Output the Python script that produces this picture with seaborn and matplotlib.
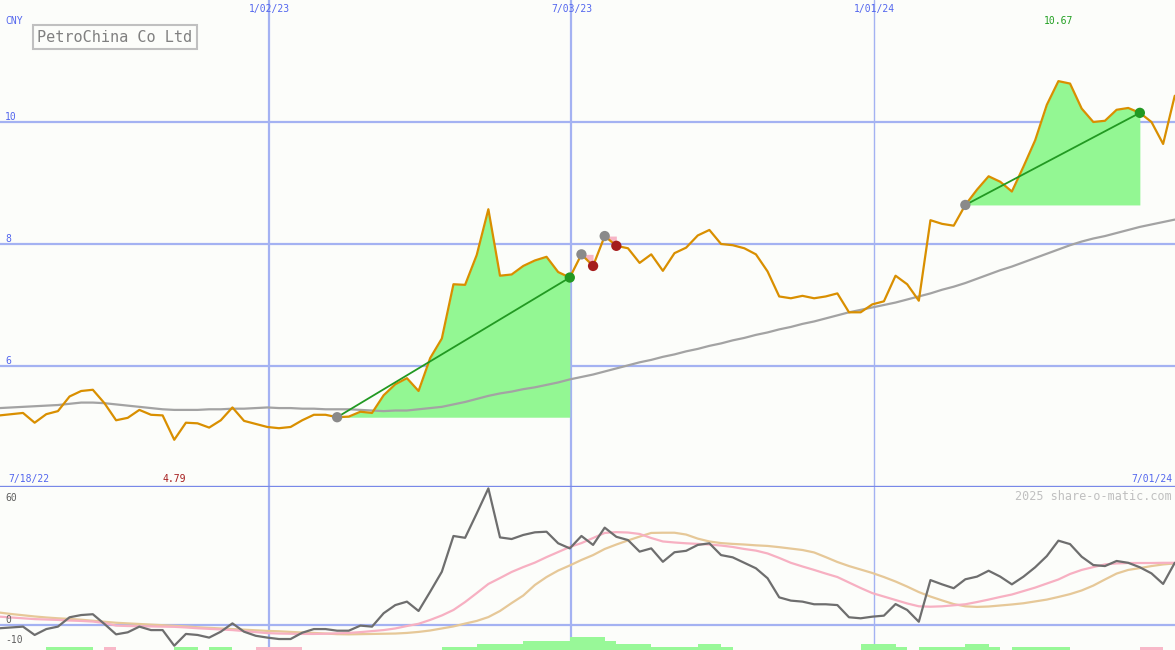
import numpy as np
import pandas as pd
import seaborn as sns
import matplotlib.pyplot as plt
import matplotlib.dates as mdates
from matplotlib.transforms import blended_transform_factory

# weekly data, first week 17 Jul 2022
week_start = '2022-07-17'

price = [5.17, 5.19, 5.21, 5.23, 5.07, 5.21, 5.26, 5.50, 5.59, 5.61,
         5.39, 5.11, 5.15, 5.28, 5.20, 5.19, 4.79, 5.07, 5.06, 4.99,
         5.11, 5.32, 5.10, 5.05, 5.00, 4.98, 5.00, 5.11, 5.20, 5.20,
         5.16, 5.17, 5.25, 5.23, 5.52, 5.70, 5.80, 5.59, 6.13, 6.45,
         7.34, 7.33, 7.82, 8.57, 7.48, 7.50, 7.64, 7.73, 7.79, 7.54,
         7.45, 7.83, 7.64, 8.13, 7.97, 7.93, 7.69, 7.83, 7.56, 7.85,
         7.94, 8.14, 8.23, 8.00, 7.98, 7.93, 7.83, 7.55, 7.14, 7.11,
         7.15, 7.11, 7.14, 7.19, 6.88, 6.88, 7.01, 7.06, 7.48, 7.34,
         7.07, 8.39, 8.33, 8.30, 8.64, 8.89, 9.11, 9.02, 8.86, 9.27,
         9.70, 10.28, 10.67, 10.63, 10.22, 10.00, 10.02, 10.20, 10.23, 10.15,
         10.00, 9.64, 10.43]

ma40 = [5.30, 5.31, 5.32, 5.33, 5.34, 5.35, 5.36, 5.38, 5.40, 5.40,
        5.39, 5.37, 5.35, 5.33, 5.31, 5.29, 5.28, 5.28, 5.28, 5.29,
        5.29, 5.30, 5.30, 5.31, 5.32, 5.31, 5.31, 5.30, 5.30, 5.29,
        5.29, 5.29, 5.28, 5.27, 5.26, 5.27, 5.27, 5.29, 5.31, 5.33,
        5.37, 5.41, 5.46, 5.51, 5.55, 5.58, 5.62, 5.65, 5.69, 5.73,
        5.78, 5.82, 5.86, 5.91, 5.96, 6.01, 6.06, 6.10, 6.15, 6.19,
        6.24, 6.28, 6.33, 6.37, 6.42, 6.46, 6.51, 6.55, 6.60, 6.64,
        6.69, 6.73, 6.78, 6.83, 6.88, 6.92, 6.96, 7.00, 7.04, 7.09,
        7.14, 7.19, 7.25, 7.30, 7.36, 7.43, 7.50, 7.57, 7.63, 7.70,
        7.77, 7.84, 7.91, 7.98, 8.04, 8.09, 8.13, 8.18, 8.23, 8.28,
        8.32, 8.36, 8.40]

rel = [-2.0, -1.6, -1.2, -0.8, -4.9, -2.0, -0.8, 3.8, 4.9, 5.3,
       0.5, -4.6, -3.6, -0.8, -2.5, -2.5, -10.2, -4.4, -4.9, -6.2,
       -3.3, 0.8, -3.3, -5.3, -6.2, -6.9, -6.9, -3.8, -2.0, -2.0,
       -2.8, -2.8, -0.3, -0.8, 5.8, 9.8, 11.5, 6.9, 16.4, 26.2,
       43.8, 42.9, 54.9, 67.2, 43.1, 42.3, 44.3, 45.6, 45.9, 40.2,
       37.7, 43.8, 39.4, 47.9, 43.4, 41.8, 36.1, 37.7, 31.1, 35.8,
       36.5, 39.4, 40.2, 34.4, 33.3, 30.6, 27.9, 23.0, 13.6, 12.0,
       11.5, 10.2, 10.2, 9.8, 3.8, 3.3, 4.1, 4.6, 10.3, 7.4,
       1.6, 22.1, 20.0, 18.1, 22.5, 23.8, 26.7, 23.8, 20.0, 23.8,
       28.4, 33.9, 41.5, 39.8, 33.6, 29.5, 29.0, 31.5, 30.6, 28.4,
       25.4, 20.2, 30.6]

rel_fast = [4.3, 4.1, 3.7, 3.3, 2.9, 2.7, 2.5, 2.2, 2.0, 1.7,
            1.0, -0.3, -0.5, -0.6, -0.7, -0.8, -0.9, -1.2, -1.6, -1.9,
            -2.2, -2.5, -3.0, -3.5, -4.0, -4.2, -4.3, -4.4, -4.4, -4.3,
            -4.1, -3.9, -3.5, -3.0, -2.5, -1.7, -0.5, 0.6, 2.5, 4.7,
            7.4, 11.3, 15.7, 20.2, 23.1, 26.1, 28.5, 30.7, 33.4, 35.9,
            38.4, 40.3, 42.8, 45.3, 45.7, 45.5, 44.8, 42.8, 41.1, 40.6,
            40.2, 39.9, 39.6, 39.1, 38.4, 37.4, 36.6, 35.2, 33.0, 30.6,
            28.8, 27.1, 25.3, 23.6, 20.9, 18.2, 15.7, 14.0, 12.3, 10.6,
            9.2, 9.0, 9.2, 9.7, 10.2, 11.3, 12.5, 13.8, 15.0, 16.7,
            18.4, 20.4, 22.4, 25.1, 27.1, 28.5, 29.8, 30.3, 30.5, 30.5,
            30.5, 30.6, 30.6]

rel_slow = [6.4, 6.1, 5.4, 4.8, 4.2, 3.7, 3.3, 3.0, 2.6, 2.1,
            1.6, 1.1, 0.8, 0.5, 0.2, -0.1, -0.4, -0.7, -1.1, -1.4,
            -1.7, -2.0, -2.3, -2.6, -2.9, -3.1, -3.4, -3.7, -3.9, -4.2,
            -4.5, -4.6, -4.5, -4.4, -4.3, -4.2, -3.9, -3.4, -2.7, -1.7,
            -0.7, 0.7, 2.0, 3.9, 6.9, 10.8, 14.5, 19.7, 23.6, 26.8,
            29.3, 32.0, 34.4, 37.4, 39.6, 41.6, 43.5, 45.3, 45.4, 45.4,
            44.5, 42.5, 41.1, 40.3, 39.9, 39.6, 39.2, 38.9, 38.3, 37.6,
            36.9, 35.7, 33.4, 31.0, 29.0, 27.3, 25.6, 23.6, 21.4, 18.9,
            16.2, 14.0, 12.1, 10.3, 9.2, 8.9, 9.1, 9.6, 10.1, 10.7,
            11.6, 12.5, 13.8, 15.2, 17.0, 19.4, 22.4, 25.3, 27.1, 28.0,
            29.0, 29.8, 30.3]

hist = [0, 0, 0, 0, 0, 1, 1, 1, 1, 0,
        -1, 0, 0, 0, 0, 0, 1, 1, 0, 1,
        1, 0, 0, -1, -1, -1, -1, 0, 0, 0,
        0, 0, 0, 0, 0, 0, 0, 0, 0, 1,
        1, 1, 2, 2, 2, 2, 3, 3, 3, 3,
        4, 4, 4, 3, 2, 2, 2, 1, 1, 1,
        1, 2, 2, 1, 0, 0, 0, 0, 0, 0,
        0, 0, 0, 0, 0, 2, 2, 2, 1, 0,
        1, 1, 1, 1, 2, 2, 1, 0, 1, 1,
        1, 1, 1, 0, 0, 0, 0, 0, 0, -1,
        -1, 0, 0]

trade_entry = [30, 51, 53, 84]
trade_exit = [50, 52, 54, 99]

grid_dates = ['2023-01-02', '2023-07-03', '2024-01-01']
grid_labels = ['1/02/23', '7/03/23', '1/01/24']
price_ticks = [10, 8, 6]
rel_ticks = [60, 0, -10]

bg = '#fcfdfa'
grid_c = '#a4b2f2'
blue = '#5366ee'

sns.set_style('white')
plt.rcParams['font.family'] = ['DejaVu Sans Mono', 'DejaVu Sans']

x = mdates.date2num(pd.date_range(week_start, periods=len(price), freq='7D'))
p = np.array(price)
xg = mdates.date2num(pd.to_datetime(grid_dates))

fig = plt.figure(figsize=(11.75, 6.5), dpi=100)
fig.patch.set_facecolor(bg)
ax1 = fig.add_axes([0, 163 / 650, 1, 487 / 650])
ax2 = fig.add_axes([0, 0, 1, 163 / 650])

xl = mdates.date2num(pd.Timestamp('2022-07-24 03:36'))
xr = mdates.date2num(pd.Timestamp('2024-06-30 03:36'))

for ax in (ax1, ax2):
    ax.set_facecolor(bg)
    ax.set_xlim(xl, xr)
    for i, xv in enumerate(xg):
        ax.axvline(xv, color=grid_c, lw=1.0 if i == 2 else 1.6, zorder=0)

# ---- price panel
ax1.set_ylim(4.016, 12.0)
for v in price_ticks:
    ax1.axhline(v, color=grid_c, lw=1.6, zorder=0)

for a, b in zip(trade_entry, trade_exit):
    seg_x, seg_p = x[a:b + 1], p[a:b + 1]
    if p[b] > p[a]:
        ax1.fill_between(seg_x, seg_p, p[a], where=seg_p >= p[a], interpolate=True,
                         color='#93f793', lw=0, zorder=1)
    else:
        ax1.fill_between(seg_x, seg_p, p[a], color='#f7b5c6', lw=0, zorder=1)

sns.lineplot(x=x, y=ma40, ax=ax1, color='#a3a3a3', lw=1.6, zorder=2, legend=False)
sns.lineplot(x=x, y=price, ax=ax1, color='#d98f00', lw=1.6, zorder=3, legend=False)

for a, b in zip(trade_entry, trade_exit):
    win = p[b] > p[a]
    if win:
        sns.lineplot(x=[x[a], x[b]], y=[p[a], p[b]], ax=ax1, color='#229922', lw=1.3,
                     zorder=4, legend=False)
    sns.scatterplot(x=[x[a]], y=[p[a]], ax=ax1, color='#8a8a8a', s=55, edgecolor='none',
                    zorder=5, legend=False)
    sns.scatterplot(x=[x[b]], y=[p[b]], ax=ax1, color='#229922' if win else '#a51c1c',
                    s=55, edgecolor='none', zorder=5, legend=False)

tx1 = blended_transform_factory(ax1.transData, ax1.transAxes)
ty1 = blended_transform_factory(ax1.transAxes, ax1.transData)
fs = 7
ax1.text(5 / 1175, 1 - 21 / 487, 'CNY', transform=ax1.transAxes, color=blue, fontsize=fs,
         va='center', ha='left')
for v in price_ticks:
    ax1.text(5 / 1175, v, str(v), transform=ty1, color=blue, fontsize=fs, va='bottom', ha='left')
for xv, lab in zip(xg, grid_labels):
    ax1.text(xv, 1 - 9 / 487, lab, transform=tx1, color=blue, fontsize=fs, va='center',
             ha='center')
imax, imin = int(np.argmax(p)), int(np.argmin(p))
ax1.text(x[imax], 1 - 21 / 487, f'{p[imax]:.2f}', transform=tx1, color='#22a022',
         fontsize=fs, va='center', ha='center')
ax1.text(x[imin], 1 - 479 / 487, f'{p[imin]:.2f}', transform=tx1, color='#a51c1c',
         fontsize=fs, va='center', ha='center')
ax1.text(8 / 1175, 1 - 479 / 487, '7/18/22', transform=ax1.transAxes, color=blue,
         fontsize=fs, va='center', ha='left')
ax1.text(1172 / 1175, 1 - 479 / 487, '7/01/24', transform=ax1.transAxes, color=blue,
         fontsize=fs, va='center', ha='right')
ax1.text(115 / 1175, 1 - 37 / 487, 'PetroChina Co Ltd', transform=ax1.transAxes,
         color='#808080', fontsize=11, va='center', ha='center', zorder=6,
         bbox=dict(boxstyle='square,pad=0.3', fc=bg, ec='#c0c0c0', lw=1.5))

# ---- relative strength panel
ax2.set_ylim(-12.3, 67.9)
ax2.axhline(0, color=grid_c, lw=1.6, zorder=0)
sns.lineplot(x=x, y=rel_slow, ax=ax2, color='#e6c898', lw=1.6, zorder=2, legend=False)
sns.lineplot(x=x, y=rel_fast, ax=ax2, color='#f7b0c2', lw=1.6, zorder=2, legend=False)
sns.lineplot(x=x, y=rel, ax=ax2, color='#6e6e6e', lw=1.6, zorder=3, legend=False)

ax3 = ax2.twinx()
ax3.set_ylim(0, 52)
h = np.array(hist)
ax3.bar(x, np.abs(h), width=7, align='edge', lw=0,
        color=['#98f898' if v > 0 else '#f8b8c8' for v in h])

ty2 = blended_transform_factory(ax2.transAxes, ax2.transData)
for v in rel_ticks:
    ax2.text(5 / 1175, v, str(v), transform=ty2, color='#606060', fontsize=fs,
             va='bottom', ha='left')
ax2.text(1172 / 1175, 1 - 9 / 163, '2025 share-o-matic.com', transform=ax2.transAxes,
         color='#c0c0c0', fontsize=8.5, va='center', ha='right')

for ax in (ax1, ax2, ax3):
    ax.set_xticks([])
    ax.set_yticks([])
    ax.set_xlabel('')
    ax.set_ylabel('')
    for s in ax.spines.values():
        s.set_visible(False)
ax3.set_xlim(xl, xr)
ax1.spines['bottom'].set_visible(True)
ax1.spines['bottom'].set_color('#7888e8')
ax1.spines['bottom'].set_linewidth(2.4)

fig.savefig('out.png', dpi=100, facecolor=bg)
